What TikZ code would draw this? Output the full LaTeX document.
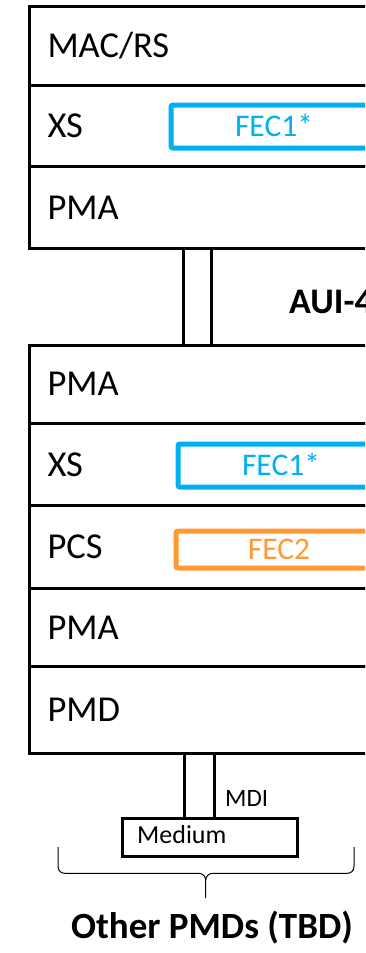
\documentclass[tikz,border=0pt]{standalone}
\usepackage{fontspec}
\setmainfont{Carlito}
\definecolor{fecblue}{HTML}{00B0F0}
\definecolor{fecorange}{HTML}{FF9933}
\begin{document}
\begin{tikzpicture}[x=1pt,y=-1pt,
  layer/.style={draw, line width=3pt, rectangle, anchor=north west, minimum width=400pt,
    text width=364pt, align=left, inner xsep=18pt, inner ysep=0pt,
    text height=23.2pt, text depth=0pt, font=\fontsize{36.5}{40}\selectfont},
  fecbox/.style={draw, line width=5pt, rounded corners=2pt, rectangle, anchor=north west,
    minimum width=206pt, inner sep=0pt, text height=20pt, text depth=0pt,
    font=\fontsize{31.5}{34}\selectfont},
  pipe/.style={draw, line width=3pt, rectangle, inner sep=0pt, anchor=north},
  lbl/.style={inner sep=0pt}]
\useasboundingbox (0,0) rectangle (365,953);
\clip (0,0) rectangle (365,953);
% top stack
\node[layer, minimum height=79pt] (mac) at (28,5) {MAC/RS};
\node[layer, minimum height=81pt] (xs1) at (28,84) {XS};
\node[layer, minimum height=82pt] (pma1) at (28,165) {PMA};
\node[fecbox, minimum height=43pt, text=fecblue, draw=fecblue] (fec1a) at (168.5,102.5) {FEC1*};
% AUI pipe
\node[pipe, minimum width=28pt, minimum height=96.5pt] (aui) at (197.5,247) {};
\node[lbl, anchor=west, font=\fontsize{36}{40}\selectfont\bfseries] (auilbl) at (289,302) {AUI-4};
% bottom stack
\node[layer, minimum height=78.5pt] (pma2) at (28,343.5) {PMA};
\node[layer, minimum height=82pt] (xs2) at (28,422) {XS};
\node[layer, minimum height=83pt] (pcs) at (28,504) {PCS};
\node[layer, minimum height=78pt] (pma3) at (28,587) {PMA};
\node[layer, minimum height=87pt] (pmd) at (28,665) {PMD};
\node[fecbox, minimum height=43pt, text=fecblue, draw=fecblue] (fec1b) at (175.5,441.5) {FEC1*};
\node[fecbox, minimum height=37pt, text=fecorange, draw=fecorange] (fec2) at (173.5,528.5) {FEC2};
% MDI pipe and medium
\node[pipe, minimum width=30.5pt, minimum height=64.5pt] (mdi) at (199.6,752) {};
\node[draw, line width=3pt, rectangle, anchor=north west, minimum width=175.3pt, minimum height=38pt, inner sep=0pt] (medium) at (120.7,816.5) {};
\node[lbl, anchor=west, font=\fontsize{26}{30}\selectfont] (mediumlbl) at (137,835) {Medium};
\node[lbl, anchor=west, font=\fontsize{25}{29}\selectfont] (mdilbl) at (225,798) {MDI};
% brace
\draw[line width=1pt] (58,847) -- (58,866) .. controls (58,871) and (61,873.3) .. (65,873.3)
  -- (198.7,873.3) .. controls (202.7,873.3) and (205.7,876.3) .. (205.7,880.3) -- (205.7,898);
\draw[line width=1pt] (205.7,880.3) .. controls (205.7,876.3) and (208.7,873.3) .. (212.7,873.3)
  -- (347,873.3) .. controls (351,873.3) and (354,871) .. (354,866) -- (354,847);
\node[lbl, anchor=base, font=\fontsize{37}{40}\selectfont\bfseries] (other) at (212,938) {Other PMDs (TBD)};
\end{tikzpicture}
\end{document}
